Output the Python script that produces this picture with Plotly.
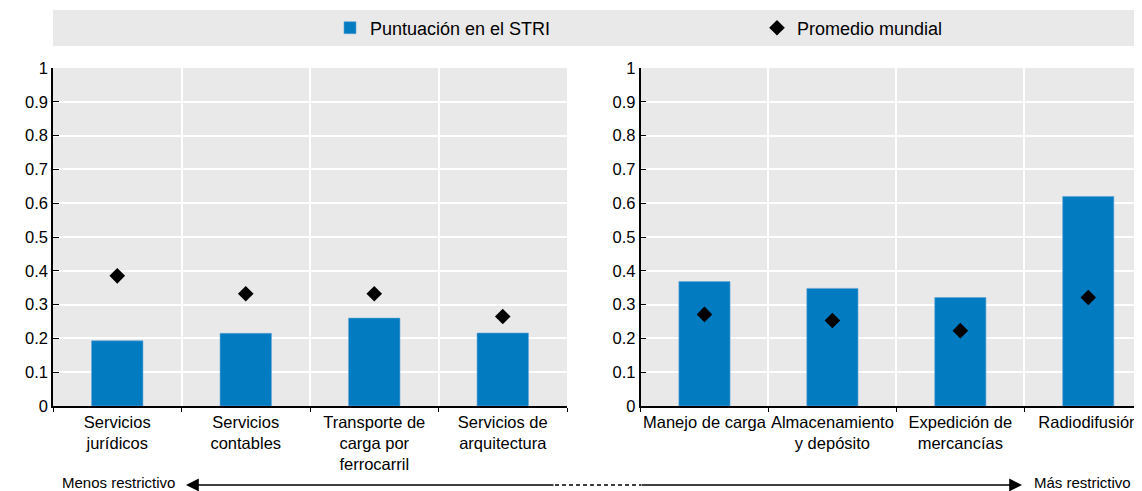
import plotly.graph_objects as go

# ---- data ----
cats_left = ["Servicios<br>jurídicos", "Servicios<br>contables",
             "Transporte de<br>carga por<br>ferrocarril", "Servicios de<br>arquitectura"]
stri_left = [0.193, 0.215, 0.260, 0.216]
avg_left = [0.385, 0.332, 0.332, 0.265]

cats_right = ["Manejo de carga", "Almacenamiento<br>y depósito",
              "Expedición de<br>mercancías", "Radiodifusión"]
stri_right = [0.368, 0.348, 0.321, 0.620]
avg_right = [0.271, 0.253, 0.223, 0.321]

ytick_vals = [0, 0.1, 0.2, 0.3, 0.4, 0.5, 0.6, 0.7, 0.8, 0.9, 1]
ytick_text = ["0", "0.1", "0.2", "0.3", "0.4", "0.5", "0.6", "0.7", "0.8", "0.9", "1"]

series_names = ["Puntuación en el STRI", "Promedio mundial"]
arrow_labels = ["Menos restrictivo", "Más restrictivo"]

# ---- style ----
FONT = "Liberation Sans, Arial, sans-serif"
TICK_SIZE = 16.5
ARROW_SIZE = 15
BLUE = "#037bc1"
BG = "#e9e9e9"
OFF = 8  # page body margin offset
W, H = 1142 - OFF, 491 - OFF
ML, MR, MT, MB = 53 - OFF, 0, 68 - OFF, 85
PW = W - ML - MR
PH = H - MT - MB


def px_x(p):
    # p: pixel in the 1142x491 window
    return (p - OFF - ML) / PW


def px_y(p):
    return (H - MB - (p - OFF)) / PH


fig = go.Figure()

fig.add_trace(go.Bar(x=cats_left, y=stri_left, name=series_names[0], marker_color=BLUE,
                     marker_line=dict(color="#5fa5d6", width=0.6), width=0.4,
                     xaxis="x", yaxis="y", legend="legend"))
fig.add_trace(go.Scatter(x=cats_left, y=avg_left, name=series_names[1], mode="markers",
                         marker=dict(symbol="diamond", color="black", size=12),
                         xaxis="x", yaxis="y", legend="legend2"))
fig.add_trace(go.Bar(x=cats_right, y=stri_right, name=series_names[0], marker_color=BLUE,
                     marker_line=dict(color="#5fa5d6", width=0.6), width=0.4,
                     xaxis="x2", yaxis="y2", showlegend=False))
fig.add_trace(go.Scatter(x=cats_right, y=avg_right, name=series_names[1], mode="markers",
                         marker=dict(symbol="diamond", color="black", size=12),
                         xaxis="x2", yaxis="y2", showlegend=False))

xcommon = dict(type="category", showgrid=True, gridcolor="white", gridwidth=1.5,
               tickson="boundaries", ticks="outside", ticklen=4, tickcolor="black",
               showline=True, linecolor="black", linewidth=1.5, zeroline=False,
               tickangle=0,
               tickfont=dict(family=FONT, size=TICK_SIZE, color="black"), automargin=False,
               fixedrange=True)
ycommon = dict(range=[0, 1], tickvals=ytick_vals, ticktext=ytick_text, showgrid=True,
               gridcolor="white", gridwidth=1.5, ticks="inside", ticklen=6,
               tickcolor="black", showline=True, linecolor="black", linewidth=1.5,
               zeroline=False, tickfont=dict(family=FONT, size=TICK_SIZE, color="black"),
               automargin=False, fixedrange=True)

legcommon = dict(orientation="h", xanchor="left", y=px_y(28), yanchor="middle",
                 bgcolor="rgba(0,0,0,0)", font=dict(family=FONT, size=18, color="black"))

fig.update_layout(
    width=W, height=H,
    margin=dict(l=ML, r=MR, t=MT, b=MB, autoexpand=False),
    paper_bgcolor="white", plot_bgcolor=BG,
    font=dict(family=FONT, size=TICK_SIZE, color="black"),
    xaxis=dict(domain=[0, px_x(567)], range=[-0.5, 3.5], **xcommon),
    yaxis=dict(anchor="x", **ycommon),
    xaxis2=dict(domain=[px_x(640.5), 1], range=[-0.5, 3.42], anchor="y2", **xcommon),
    yaxis2=dict(anchor="x2", **ycommon),
    showlegend=True,
    legend=dict(x=px_x(330), **legcommon),
    legend2=dict(x=px_x(757), **legcommon),
    shapes=[
        dict(type="rect", xref="paper", yref="paper", x0=0, x1=1,
             y0=px_y(46), y1=px_y(10), fillcolor=BG, line=dict(width=0), layer="below"),
        dict(type="line", xref="paper", yref="paper", x0=px_x(555), x1=px_x(641),
             y0=px_y(485), y1=px_y(485),
             line=dict(color="black", width=1.4, dash="4px,3px")),
    ],
    annotations=[
        dict(xref="paper", yref="paper", x=px_x(186), y=px_y(485), ax=555 - 186, ay=0,
             text="", showarrow=True, arrowhead=2, arrowsize=1.6, arrowwidth=1.6,
             arrowcolor="black"),
        dict(xref="paper", yref="paper", x=px_x(1022), y=px_y(485), ax=640 - 1022, ay=0,
             text="", showarrow=True, arrowhead=2, arrowsize=1.6, arrowwidth=1.6,
             arrowcolor="black"),
        dict(xref="paper", yref="paper", x=px_x(177), y=px_y(482), xanchor="right",
             yanchor="middle", text=arrow_labels[0], showarrow=False,
             font=dict(family=FONT, size=ARROW_SIZE, color="black")),
        dict(xref="paper", yref="paper", x=px_x(1032), y=px_y(482), xanchor="left",
             yanchor="middle", text=arrow_labels[1], showarrow=False,
             font=dict(family=FONT, size=ARROW_SIZE, color="black")),
    ],
)

fig.write_html("out.html")
